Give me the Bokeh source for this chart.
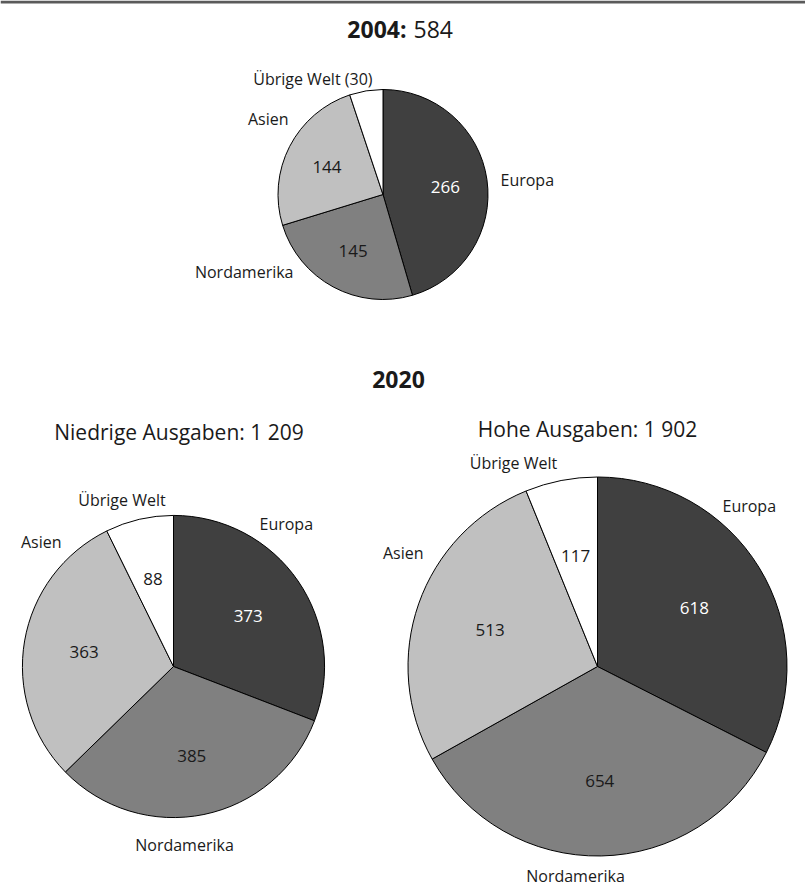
import numpy as np
from bokeh.plotting import figure
from bokeh.models import ColumnDataSource, Range1d
from bokeh.core.properties import value
from bokeh.embed import file_html
from bokeh.resources import INLINE

# ---------------- data ----------------
regions = ["Europa", "Nordamerika", "Asien", "Übrige Welt"]
values_2004 = [266, 145, 144, 30]
values_2020_low = [373, 385, 363, 88]
values_2020_high = [618, 654, 513, 117]
totals = [584, 1209, 1902]
years = ["2004", "2020"]
scenarios = ["Niedrige Ausgaben", "Hohe Ausgaben"]

# ---------------- style ----------------
colors = ["#404040", "#808080", "#c0c0c0", "#ffffff"]
value_colors = ["#ffffff", "#1a1a1a", "#1a1a1a", "#1a1a1a"]
FONT = "Open Sans"
W, H = 805, 886
K = 4.345  # radius in px per sqrt(value) -> pie area proportional to total
CAP = 0.357  # half cap height (em)
ADJ = 0.30   # empirical correction of rendered baseline (em)


def fmt(n):
    return f"{n:,}".replace(",", " ")


def Y(py):
    return H - py


p = figure(width=W, height=H, x_range=Range1d(0, W), y_range=Range1d(0, H),
           output_backend="svg", toolbar_location=None,
           x_axis_location=None, y_axis_location=None, min_border=0)
p.grid.visible = False
p.outline_line_color = None
p.background_fill_color = "white"
p.border_fill_color = "white"

# top rule
p.segment(x0=[0], y0=[Y(1.5)], x1=[W], y1=[Y(1.5)], line_color="#5a5a5a", line_width=3)


def add_text(x, py, txt, size, align="center", color="#1a1a1a", bold=False):
    p.text(x=[x], y=[Y(py + (CAP - ADJ) * size)], text=[txt], text_font=value(FONT),
           text_font_size=f"{size}px", text_align=align, text_baseline="alphabetic",
           text_color=color, text_font_style="bold" if bold else "normal")


# titles
add_text(406, 27.5, years[0] + ":", 23, align="right", bold=True)
add_text(413, 27.5, fmt(totals[0]), 23, align="left")
add_text(398, 377.5, years[1], 23, bold=True)
add_text(178.5, 430, f"{scenarios[0]}: {fmt(totals[1])}", 21)
add_text(587, 427.5, f"{scenarios[1]}: {fmt(totals[2])}", 21)

# pies: layout (centers and outer label anchors)
pies = [
    dict(vals=values_2004, total=totals[0], cx=382.5, cy=194,
         names=[regions[0], regions[1], regions[2], f"{regions[3]} ({values_2004[3]})"],
         show=[True, True, True, False],
         anchors=[(500, 178.5, "left"), (293, 270.5, "right"), (288, 118, "right"), (372, 78, "right")]),
    dict(vals=values_2020_low, total=totals[1], cx=173, cy=666,
         names=regions, show=[True] * 4,
         anchors=[(259, 523, "left"), (184, 844, "center"), (61, 541, "right"), (121.5, 499, "center")]),
    dict(vals=values_2020_high, total=totals[2], cx=597, cy=666,
         names=regions, show=[True] * 4,
         anchors=[(722, 505, "left"), (575, 874.5, "center"), (423, 551.5, "right"), (513, 462, "center")]),
]

for pie in pies:
    v = np.array(pie["vals"], dtype=float)
    frac = v / v.sum()
    cum = np.concatenate([[0], np.cumsum(frac)])
    start = np.pi / 2 - 2 * np.pi * cum[:-1]
    end = np.pi / 2 - 2 * np.pi * cum[1:]
    r = K * np.sqrt(pie["total"])
    src = ColumnDataSource(dict(start=start, end=end, color=colors))
    p.wedge(x=pie["cx"], y=Y(pie["cy"]), radius=r, start_angle="start", end_angle="end",
            direction="clock", fill_color="color", line_color="black", line_width=1,
            source=src)
    mid = 2 * np.pi * (cum[:-1] + cum[1:]) / 2
    for i in range(4):
        if pie["show"][i]:
            vx = pie["cx"] + 0.6 * r * np.sin(mid[i])
            vy = pie["cy"] - 0.6 * r * np.cos(mid[i])
            add_text(vx, vy, str(pie["vals"][i]), 17, color=value_colors[i])
        ax, ay, al = pie["anchors"][i]
        add_text(ax, ay, pie["names"][i], 16, align=al)

open("out.html", "w").write(file_html(p, INLINE))
